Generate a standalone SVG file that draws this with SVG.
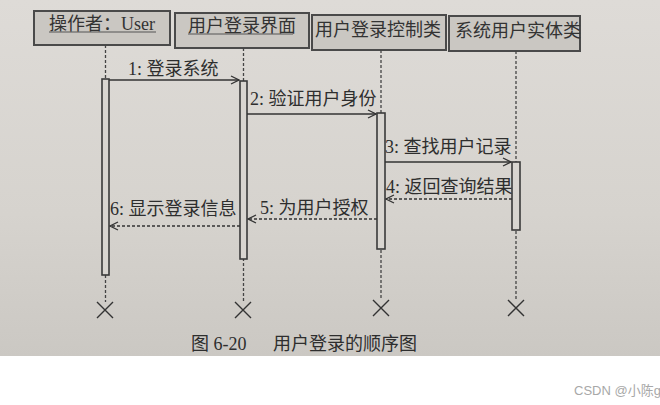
<svg xmlns="http://www.w3.org/2000/svg" width="660" height="405" viewBox="0 0 660 405">
<defs>
<linearGradient id="bg" x1="0" y1="0" x2="0" y2="1">
<stop offset="0" stop-color="#dedbd7"/>
<stop offset="0.6" stop-color="#d6d3ce"/>
<stop offset="1" stop-color="#cbc8c3"/>
</linearGradient>
<marker id="arr" markerWidth="10" markerHeight="10" refX="9" refY="5" orient="auto" markerUnits="userSpaceOnUse">
<path d="M1,1 L9,5 L1,9" fill="none" stroke="#333" stroke-width="1.3"/>
</marker>
</defs>
<style>
.box{fill:#cac7c2;stroke:#4a4a4a;stroke-width:2}
.bt{font-family:"Liberation Serif","Noto Sans CJK SC",serif;font-size:18px;fill:#333}
.mt{font-family:"Liberation Serif","Noto Sans CJK SC",serif;font-size:18px;fill:#2e2e2e}
.life{stroke:#444;stroke-width:1.3;stroke-dasharray:3 2;fill:none}
.act{fill:#d8d5d0;stroke:#3a3a3a;stroke-width:1.6}
.msg{stroke:#333;stroke-width:1.3;fill:none;marker-end:url(#arr)}
.ret{stroke:#333;stroke-width:1.3;fill:none;stroke-dasharray:3 2;marker-end:url(#arr)}
.x{stroke:#333;stroke-width:1.4;fill:none}
.ul{stroke:#555;stroke-width:1}
</style>
<rect x="0" y="0" width="660" height="405" fill="#ffffff"/>
<rect x="0" y="0" width="660" height="356" fill="url(#bg)"/>

<g id="user">
<rect class="box" x="34" y="11" width="136" height="34"/>
<text class="bt" x="49" y="30">操作者：User</text>
<line class="ul" x1="49" y1="32" x2="156" y2="32"/>
<line class="life" x1="105.5" y1="45" x2="105.5" y2="302"/>
<rect class="act" x="102" y="79" width="7" height="196"/>
<path class="x" d="M97,302 L113,318 M113,302 L97,318"/>
</g>

<g id="ui">
<rect class="box" x="175" y="13" width="134" height="35"/>
<text class="bt" x="188" y="32">用户登录界面</text>
<line class="ul" x1="188" y1="34" x2="293" y2="34"/>
<line class="life" x1="243.5" y1="48" x2="243.5" y2="302"/>
<rect class="act" x="240" y="81" width="7" height="178"/>
<path class="x" d="M235,302 L251,318 M251,302 L235,318"/>
</g>

<g id="ctrl">
<rect class="box" x="312" y="15" width="134" height="35"/>
<text class="bt" x="315" y="36">用户登录控制类</text>
<line class="life" x1="381" y1="50" x2="381" y2="300"/>
<rect class="act" x="377" y="113" width="8" height="136"/>
<path class="x" d="M373,300 L389,316 M389,300 L373,316"/>
</g>

<g id="entity">
<rect class="box" x="449" y="16" width="131" height="35"/>
<text class="bt" x="455" y="37" font-size="17">系统用户实体类</text>
<line class="life" x1="516" y1="51" x2="516" y2="300"/>
<rect class="act" x="512" y="162" width="8" height="68"/>
<path class="x" d="M508,300 L524,316 M524,300 L508,316"/>
</g>

<g id="connectors">
<line class="msg" x1="109" y1="80" x2="239" y2="80"/>
<text class="mt" x="128" y="75">1: 登录系统</text>
<line class="msg" x1="247" y1="114" x2="376" y2="114"/>
<text class="mt" x="250" y="105">2: 验证用户身份</text>
<line class="msg" x1="385" y1="162" x2="511" y2="162"/>
<text class="mt" x="385" y="153">3: 查找用户记录</text>
<line class="ret" x1="512" y1="199" x2="386" y2="199"/>
<text class="mt" x="386" y="193">4: 返回查询结果</text>
<line class="ret" x1="377" y1="219" x2="248" y2="219"/>
<text class="mt" x="260" y="214">5: 为用户授权</text>
<line class="ret" x1="240" y1="226" x2="110" y2="226"/>
<text class="mt" x="110" y="215">6: 显示登录信息</text>
</g>

<text class="mt" x="191" y="350" font-size="21">图 6-20</text>
<text class="mt" x="273" y="350" font-size="19.6">用户登录的顺序图</text>
<text x="574" y="395" font-family="'Liberation Sans','Noto Sans CJK SC',sans-serif" font-size="13" fill="#a8a8a8">CSDN @小陈g</text>
</svg>
